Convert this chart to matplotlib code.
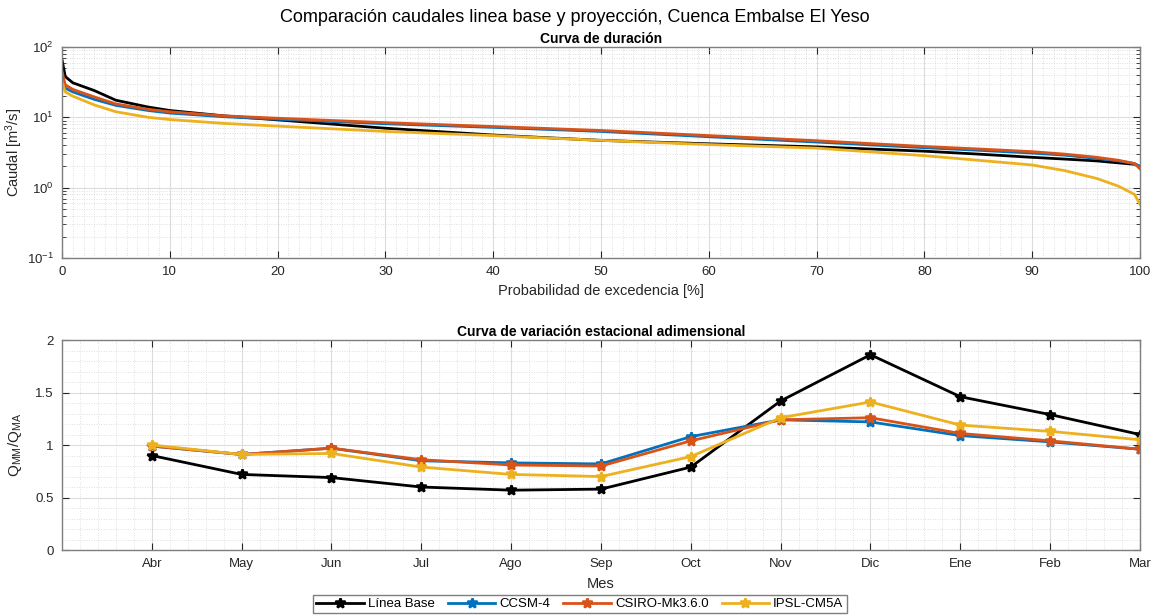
import matplotlib
matplotlib.use("Agg")
import matplotlib.pyplot as plt
import numpy as np
from matplotlib.ticker import MultipleLocator, LogLocator, NullFormatter, FormatStrFormatter

plt.rcParams['font.family'] = ['Liberation Sans', 'DejaVu Sans']
plt.rcParams['mathtext.fontset'] = 'custom'
plt.rcParams['mathtext.rm'] = 'Liberation Sans'
plt.rcParams['mathtext.it'] = 'Liberation Sans'
plt.rcParams['axes.unicode_minus'] = False

# curva de duración (probabilidad de excedencia en %, caudal en m3/s)
prob = [0, 0.3, 1, 3, 5, 8, 10, 15, 20, 30, 40, 50, 60, 70, 80, 85, 90, 93, 96, 98, 99.5, 100]
q_base = [66, 38, 31, 24, 17.5, 14, 12.5, 10.5, 9.2, 7.0, 5.6, 4.7, 4.2, 3.8, 3.3, 3.0, 2.7, 2.55, 2.4, 2.25, 2.15, 2.0]
q_ccsm = [37, 26, 23, 18, 14.8, 12.5, 11.5, 10.2, 9.4, 8.1, 7.2, 6.3, 5.3, 4.45, 3.7, 3.4, 3.1, 2.9, 2.6, 2.4, 2.2, 2.0]
q_csiro = [45, 29, 25, 19.5, 15.5, 13, 12, 10.5, 9.7, 8.4, 7.4, 6.5, 5.5, 4.65, 3.85, 3.55, 3.25, 3.0, 2.7, 2.45, 2.2, 1.85]
q_ipsl = [32, 23, 20, 15, 12, 10, 9.3, 8.2, 7.5, 6.3, 5.5, 4.7, 4.1, 3.65, 2.85, 2.45, 2.1, 1.75, 1.35, 1.05, 0.8, 0.58]

# variación estacional adimensional
meses = ['Abr', 'May', 'Jun', 'Jul', 'Ago', 'Sep', 'Oct', 'Nov', 'Dic', 'Ene', 'Feb', 'Mar']
v_base = [0.90, 0.72, 0.69, 0.60, 0.57, 0.58, 0.79, 1.42, 1.86, 1.46, 1.29, 1.10]
v_ccsm = [0.99, 0.91, 0.97, 0.85, 0.83, 0.82, 1.08, 1.24, 1.22, 1.09, 1.03, 0.96]
v_csiro = [0.99, 0.91, 0.97, 0.86, 0.81, 0.80, 1.04, 1.24, 1.26, 1.11, 1.04, 0.96]
v_ipsl = [1.00, 0.91, 0.92, 0.79, 0.72, 0.70, 0.89, 1.26, 1.41, 1.19, 1.13, 1.05]

nombres = ['Línea Base', 'CCSM-4', 'CSIRO-Mk3.6.0', 'IPSL-CM5A']
colores = ['k', '#0072BD', '#D95319', '#EDB120']
gris = '#262626'

fig = plt.figure(figsize=(11.61, 6.16), dpi=100)
ax1 = fig.add_axes([0.0534, 0.5812, 0.9285, 0.3425])
ax2 = fig.add_axes([0.0534, 0.1071, 0.9285, 0.3409])

for q, c in zip([q_base, q_ccsm, q_csiro, q_ipsl], colores):
    ax1.plot(prob, q, color=c, linewidth=2)
ax1.set_yscale('log')
ax1.set_xlim(0, 100)
ax1.set_ylim(0.1, 100)
ax1.xaxis.set_major_locator(MultipleLocator(10))
ax1.xaxis.set_minor_locator(MultipleLocator(1))
ax1.yaxis.set_minor_locator(LogLocator(base=10, subs=np.arange(2, 10)))
ax1.yaxis.set_minor_formatter(NullFormatter())
ax1.set_title('Curva de duración', fontsize=10, fontweight='bold', pad=3)
ax1.set_xlabel('Probabilidad de excedencia [%]', fontsize=10.5, color=gris, labelpad=4)
ax1.set_ylabel(r'Caudal [m$^3$/s]', fontsize=10.5, color=gris, labelpad=1)

lineas = []
for v, c, n in zip([v_base, v_ccsm, v_csiro, v_ipsl], colores, nombres):
    l, = ax2.plot(range(1, 13), v, color=c, linewidth=2, marker='*',
                  markersize=7, markeredgewidth=1.8, label=n)
    lineas.append(l)
ax2.set_xlim(0, 12)
ax2.set_ylim(0, 2)
ax2.set_xticks(range(1, 13))
ax2.set_xticklabels(meses)
ax2.xaxis.set_minor_locator(MultipleLocator(0.2))
ax2.yaxis.set_major_locator(MultipleLocator(0.5))
ax2.yaxis.set_major_formatter(FormatStrFormatter('%g'))
ax2.yaxis.set_minor_locator(MultipleLocator(0.1))
ax2.set_title('Curva de variación estacional adimensional', fontsize=10, fontweight='bold', pad=3)
ax2.set_xlabel('Mes', fontsize=10.5, color=gris, labelpad=5)
ax2.set_ylabel(r'$\mathregular{Q_{MM}/Q_{MA}}$', fontsize=11, color=gris, labelpad=8)

for ax in (ax1, ax2):
    ax.grid(True, which='major', color='#dcdcdc', linewidth=0.8, linestyle='-')
    ax.grid(True, which='minor', color='#c4c4c4', linewidth=0.5, linestyle=(0, (1, 2.5)))
    ax.set_axisbelow(True)
    ax.tick_params(which='both', direction='in', top=True, right=True,
                   labelsize=9.5, colors=gris)
    ax.tick_params(which='major', length=5, pad=6)
    for s in ax.spines.values():
        s.set_color('#7f7f7f')
        s.set_linewidth(1)
ax1.tick_params(axis='x', which='minor', length=0)
ax1.tick_params(axis='y', which='minor', length=3)
ax2.tick_params(which='minor', length=0)

fig.text(0.495, 0.972, 'Comparación caudales linea base y proyección, Cuenca Embalse El Yeso',
         ha='center', va='center', fontsize=13, color='k')

fig.legend(handles=lineas, loc='center', bbox_to_anchor=(0.4995, 1 - 604 / 616), ncol=4,
           fontsize=9.5, handlelength=3.6, columnspacing=1.0, handletextpad=0.3,
           borderpad=0.25, fancybox=False, edgecolor='#7f7f7f', framealpha=1)

fig.savefig('out.png', dpi=100)
